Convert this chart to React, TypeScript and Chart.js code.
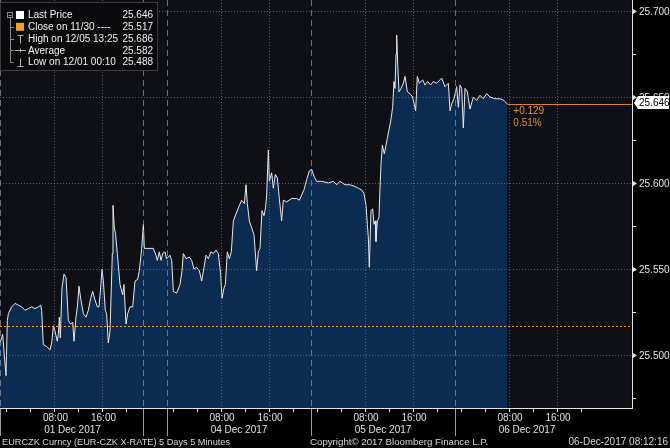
import React, { useEffect, useRef } from 'react';
import { Chart, registerables } from 'chart.js';

Chart.register(...registerables);

// chart-time hours (01 Dec 00:00 = 0, weekend compressed)
const priceHours = [-1.08,-0.64,-0.08,0.14,0.31,0.86,1.42,1.97,2.53,3.08,3.64,4.19,4.75,5.31,5.69,5.86,6.14,6.69,7.25,7.53,7.81,8.08,8.47,8.64,8.81,8.97,9.25,9.58,9.92,10.31,10.69,11.03,11.25,11.58,11.81,12.08,12.36,12.81,13.25,13.64,14.03,14.36,14.75,15.14,15.42,15.69,15.92,16.14,16.47,16.69,16.97,17.25,17.47,17.64,17.75,17.97,18.19,18.47,18.92,19.36,19.58,19.92,20.19,20.58,21.03,21.42,21.86,22.14,22.53,22.81,22.97,24.47,24.92,25.14,25.47,25.75,26.03,26.42,26.69,27.25,27.53,27.81,28.36,28.92,29.25,29.47,29.92,30.47,30.86,31.25,31.69,32.14,32.53,32.92,33.25,33.64,34.08,34.47,34.92,35.31,35.69,35.92,36.25,36.47,36.81,37.14,37.47,37.81,38.25,38.81,39.19,39.64,39.92,40.14,40.47,40.86,41.25,41.69,41.97,42.25,42.58,42.92,43.19,43.36,43.64,43.81,44.19,44.47,44.81,45.14,45.47,45.86,46.14,46.69,47.53,48.36,48.81,49.19,49.58,50.03,50.47,50.86,51.25,51.69,52.53,53.64,54.47,55.03,55.58,56.42,57.25,58.08,58.64,59.19,59.58,59.92,60.14,60.31,60.47,60.75,61.03,61.25,61.47,61.58,61.81,62.08,62.25,62.42,62.64,62.97,63.25,63.47,64.03,64.36,64.58,64.75,64.92,65.03,65.2,65.42,65.75,66.14,66.42,66.81,67.25,67.69,68.19,68.47,68.81,69.36,69.75,70.19,70.69,71.14,71.69,72.53,73.08,73.64,73.92,74.19,74.58,75.03,75.31,75.58,75.86,76.14,76.42,76.81,77.25,77.81,78.36,78.92,79.47,80.03,80.58,81.42,82.25,82.92,83.47];

const priceValues = [25.507,25.512,25.488,25.520,25.524,25.528,25.530,25.529,25.528,25.526,25.527,25.528,25.527,25.528,25.529,25.526,25.506,25.505,25.503,25.507,25.517,25.514,25.508,25.512,25.522,25.510,25.539,25.547,25.545,25.520,25.518,25.519,25.508,25.522,25.528,25.540,25.533,25.524,25.522,25.526,25.533,25.537,25.532,25.528,25.528,25.539,25.550,25.543,25.526,25.524,25.507,25.514,25.539,25.559,25.587,25.574,25.570,25.559,25.541,25.535,25.541,25.518,25.524,25.528,25.528,25.543,25.544,25.549,25.562,25.576,25.562,25.562,25.558,25.555,25.560,25.555,25.559,25.560,25.556,25.558,25.555,25.537,25.536,25.541,25.549,25.559,25.556,25.557,25.555,25.550,25.551,25.549,25.543,25.551,25.558,25.556,25.560,25.559,25.561,25.559,25.547,25.533,25.539,25.541,25.560,25.556,25.560,25.578,25.582,25.587,25.590,25.588,25.599,25.588,25.578,25.574,25.570,25.549,25.560,25.562,25.584,25.581,25.586,25.593,25.619,25.601,25.606,25.597,25.605,25.603,25.591,25.578,25.590,25.589,25.591,25.591,25.590,25.593,25.596,25.602,25.607,25.608,25.604,25.601,25.601,25.600,25.601,25.599,25.601,25.599,25.599,25.598,25.597,25.596,25.594,25.587,25.576,25.568,25.551,25.584,25.585,25.576,25.578,25.566,25.578,25.580,25.597,25.611,25.622,25.617,25.622,25.626,25.636,25.644,25.659,25.655,25.675,25.686,25.669,25.653,25.655,25.658,25.662,25.653,25.652,25.650,25.642,25.662,25.658,25.660,25.657,25.659,25.657,25.659,25.658,25.661,25.656,25.658,25.642,25.646,25.649,25.656,25.644,25.657,25.655,25.632,25.655,25.653,25.643,25.650,25.648,25.651,25.649,25.652,25.650,25.649,25.649,25.648,25.646];

const closeValue = 25.517;
const lastValue = 25.646;
const changeLabels = ['+0.129', '0.51%'];

const dayLabels = ['01 Dec 2017', '04 Dec 2017', '05 Dec 2017', '06 Dec 2017'];
const dayStarts = [0, 27.75, 51.75, 75.75];
const daySeparators = [-1, 22.75, 26.75, 50.75, 74.75];
const timeLabels = ['08:00', '16:00'];
const timeLabelHours = [8, 16];
const minorTickHours = [0, 4, 8, 12, 16, 20];

const yMajorTicks = [25.5, 25.55, 25.6, 25.65, 25.7];
const yMinorTicks = [25.475, 25.525, 25.575, 25.625, 25.675];
const yTickLabels = ['25.500', '25.550', '25.600', '25.650', '25.700'];

const legendLabels = ['Last Price', 'Close on 11/30 ----', 'High on 12/05 13:25', 'Average', 'Low on 12/01 00:10'];
const legendValues = ['25.646', '25.517', '25.686', '25.582', '25.488'];

const footerLeft = 'EURCZK Curncy (EUR-CZK X-RATE) 5 Days 5 Minutes';
const footerMid = 'Copyright\u00A9 2017 Bloomberg Finance L.P.';
const footerRight = '06-Dec-2017 08:12:16';

const FONT = '"Liberation Sans", Arial, sans-serif';

export default function App() {
  const ref = useRef<HTMLCanvasElement>(null);

  useEffect(() => {
    document.body.style.margin = '0';
    document.body.style.background = '#000';
    const canvas = ref.current;
    if (!canvas) return;

    const bgPlugin = {
      id: 'bgPlugin',
      beforeDraw(chart: any) {
        const { ctx, chartArea: a } = chart;
        ctx.save();
        ctx.fillStyle = '#000';
        ctx.fillRect(0, 0, chart.width, chart.height);
        ctx.fillStyle = '#0f1015';
        ctx.fillRect(a.left, a.top, a.right - a.left, a.bottom - a.top);
        ctx.restore();
      },
    };

    const overlayPlugin = {
      id: 'overlayPlugin',
      afterDatasetsDraw(chart: any) {
        const { ctx, chartArea: a } = chart;
        const xs = chart.scales.x;
        const ys = chart.scales.y;
        const X = (h: number) => xs.getPixelForValue(h);
        const Y = (v: number) => ys.getPixelForValue(v);
        const line = (x1: number, y1: number, x2: number, y2: number) => {
          ctx.beginPath();
          ctx.moveTo(x1, y1);
          ctx.lineTo(x2, y2);
          ctx.stroke();
        };
        ctx.save();
        ctx.lineWidth = 1;

        // horizontal dotted grid
        ctx.setLineDash([1, 2]);
        ctx.strokeStyle = 'rgba(150,150,160,0.55)';
        yMajorTicks.forEach((v) => {
          const y = Math.round(Y(v)) + 0.5;
          line(a.left, y, a.right, y);
        });
        // vertical dotted grid at time labels
        dayStarts.forEach((d) => {
          timeLabelHours.forEach((t) => {
            const x = Math.round(X(d + t)) + 0.5;
            line(x, a.top, x, a.bottom);
          });
        });
        // day separators (dashed)
        ctx.setLineDash([6, 4]);
        ctx.strokeStyle = 'rgba(150,150,160,0.7)';
        daySeparators.forEach((h) => {
          const x = Math.max(a.left + 0.5, Math.round(X(h)) + 0.5);
          line(x, a.top, x, a.bottom);
        });
        ctx.setLineDash([]);
        ctx.strokeStyle = '#9a9a9a';
        daySeparators.forEach((h) => {
          const x = Math.max(a.left + 0.5, Math.round(X(h)) + 0.5);
          line(x, a.bottom, x, a.bottom + 28);
        });

        // previous close dotted orange
        ctx.setLineDash([2, 2]);
        ctx.strokeStyle = '#f2a12e';
        const yc = Math.round(Y(closeValue)) + 0.5;
        line(a.left, yc, a.right, yc);

        // last price orange line
        ctx.setLineDash([]);
        ctx.strokeStyle = '#d9832c';
        const yl = Math.round(Y(lastValue)) + 0.5;
        const lastH = priceHours[priceHours.length - 1];
        line(X(lastH), yl, a.right, yl);

        // axis lines
        ctx.strokeStyle = '#e6e6e6';
        line(a.left, a.bottom + 0.5, a.right + 1, a.bottom + 0.5);
        line(Math.round(a.right) + 0.5, a.top, Math.round(a.right) + 0.5, a.bottom + 1);

        // x minor ticks
        dayStarts.forEach((d) => {
          minorTickHours.forEach((t) => {
            const x = Math.round(X(d + t)) + 0.5;
            if (x > a.left && x < a.right) line(x, a.bottom + 1, x, a.bottom + 4);
          });
        });

        // x labels
        ctx.fillStyle = '#e0e0e0';
        ctx.font = `10px ${FONT}`;
        ctx.textAlign = 'center';
        ctx.textBaseline = 'middle';
        dayStarts.forEach((d, i) => {
          timeLabelHours.forEach((t, j) => {
            ctx.fillText(timeLabels[j], X(d + t) + 1, a.bottom + 10);
          });
          ctx.fillText(dayLabels[i], X(d + 11), a.bottom + 22);
        });

        // y ticks
        const rx = Math.round(a.right) + 1;
        ctx.fillStyle = '#e6e6e6';
        yMinorTicks.forEach((v) => {
          const y = Math.round(Y(v)) + 0.5;
          line(rx, y, rx + 3, y);
        });
        ctx.textAlign = 'left';
        yMajorTicks.forEach((v, i) => {
          const y = Math.round(Y(v)) + 0.5;
          ctx.beginPath();
          ctx.moveTo(rx, y - 2.5);
          ctx.lineTo(rx + 4, y);
          ctx.lineTo(rx, y + 2.5);
          ctx.closePath();
          ctx.fill();
          ctx.fillText(yTickLabels[i], rx + 6, y + 0.5);
        });

        // last price box
        const by = Y(lastValue) - 1;
        ctx.fillStyle = '#ffffff';
        ctx.beginPath();
        ctx.moveTo(rx + 1, by);
        ctx.lineTo(rx + 5, by - 7);
        ctx.lineTo(rx + 36, by - 7);
        ctx.lineTo(rx + 36, by + 6);
        ctx.lineTo(rx + 5, by + 6);
        ctx.closePath();
        ctx.fill();
        ctx.fillStyle = '#000';
        ctx.fillText(legendValues[0], rx + 6, by + 0.5);

        // change text
        ctx.fillStyle = '#e0913f';
        ctx.fillText(changeLabels[0], X(lastH) + 6, by + 8);
        ctx.fillText(changeLabels[1], X(lastH) + 6, by + 20);

        // legend box
        ctx.fillStyle = '#0a0a0d';
        ctx.fillRect(0, 2, 158, 69);
        ctx.strokeStyle = '#3c3c40';
        ctx.strokeRect(0.5, 2.5, 157, 68);
        const rowY = (i: number) => 15 + i * 11.8;
        // tree
        ctx.strokeStyle = '#8a8a8a';
        ctx.strokeRect(7.5, 12.5, 5, 5);
        line(8.5, 15.5, 11.5, 15.5);
        line(10.5, 18, 10.5, Math.round(rowY(4)) + 0.5);
        for (let i = 1; i < 5; i++) {
          const y = Math.round(rowY(i)) + 0.5;
          line(10.5, y, 14, y);
        }
        // icons
        ctx.fillStyle = '#ffffff';
        ctx.fillRect(16, rowY(0) - 4, 8, 8);
        ctx.fillStyle = '#f2a12e';
        ctx.fillRect(16, rowY(1) - 4, 8, 8);
        ctx.strokeStyle = '#b0b0b0';
        const y3 = Math.round(rowY(2)) + 0.5;
        line(20.5, y3 - 4, 20.5, y3 + 4);
        line(17.5, y3 - 4, 23.5, y3 - 4);
        const y4 = Math.round(rowY(3)) + 0.5;
        line(15, y4, 26, y4);
        line(20.5, y4 - 2, 20.5, y4 + 2);
        const y5 = Math.round(rowY(4)) + 0.5;
        line(20.5, y5 - 4, 20.5, y5 + 4);
        line(17.5, y5 + 4, 23.5, y5 + 4);
        ctx.fillStyle = '#f0f0f0';
        ctx.textBaseline = 'middle';
        ctx.font = `10px ${FONT}`;
        legendLabels.forEach((lab, i) => {
          ctx.textAlign = 'left';
          ctx.fillText(lab, 28, rowY(i) + 0.5);
        });
        legendValues.forEach((val, i) => {
          ctx.textAlign = 'right';
          ctx.fillText(val, 153, rowY(i) + 0.5);
        });

        // footer
        ctx.fillStyle = '#d8d8d8';
        ctx.textAlign = 'left';
        ctx.font = `9.2px ${FONT}`;
        ctx.fillText(footerLeft, 2, 442);
        ctx.font = `9.7px ${FONT}`;
        ctx.fillText(footerMid, 310, 442);
        ctx.font = `10px ${FONT}`;
        ctx.textAlign = 'right';
        ctx.fillText(footerRight, 668, 442);

        ctx.restore();
      },
    };

    const n = Math.min(priceHours.length, priceValues.length);
    const points = [];
    for (let i = 0; i < n; i++) points.push({ x: priceHours[i], y: priceValues[i] });

    const chart = new Chart(canvas, {
      type: 'line',
      data: {
        datasets: [
          {
            data: points,
            borderColor: '#e8e8e8',
            borderWidth: 1,
            backgroundColor: '#0c2b50',
            fill: 'start',
            pointRadius: 0,
            tension: 0,
          },
        ],
      },
      options: {
        responsive: false,
        animation: false,
        devicePixelRatio: 1,
        layout: { padding: 0 },
        plugins: { legend: { display: false }, tooltip: { enabled: false } },
        scales: {
          x: {
            type: 'linear',
            min: -1.0833,
            max: 104.2,
            ticks: { display: false },
            grid: { display: false },
            border: { display: false },
            afterFit: (s: any) => { s.height = 40; },
          },
          y: {
            position: 'right',
            min: 25.4692,
            max: 25.7064,
            ticks: { display: false },
            grid: { display: false },
            border: { display: false },
            afterFit: (s: any) => { s.width = 38.3; },
          },
        },
      },
      plugins: [bgPlugin, overlayPlugin],
    } as any);

    return () => chart.destroy();
  }, []);

  return <canvas ref={ref} width={670} height={448} style={{ display: 'block' }} />;
}
